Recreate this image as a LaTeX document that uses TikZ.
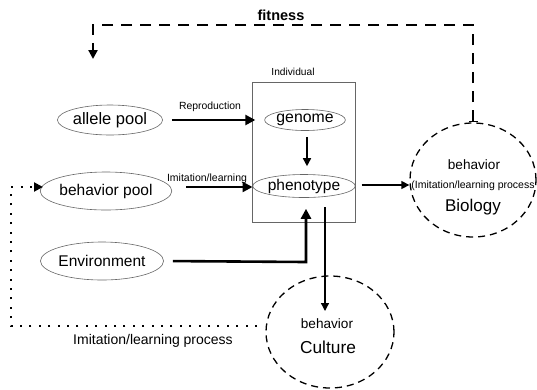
\documentclass[tikz,border=0pt]{standalone}
\usepackage{fontspec}
\setmainfont{Liberation Sans}
\usetikzlibrary{arrows.meta,shapes.geometric,calc}
\newcommand{\fsz}[1]{\fontsize{#1bp}{#1bp}\selectfont}
\begin{document}
\begin{tikzpicture}[x=1bp,y=-1bp,
  pool/.style={ellipse,draw=black!60,line width=0.6bp,inner sep=0pt,text=black},
  circ/.style={ellipse,draw,dash pattern=on 7bp off 5bp,line width=1.3bp,inner sep=0pt},
  lbl/.style={inner sep=0pt},
  thickarr/.style={line width=2.4bp,line join=miter,-{Triangle[length=10bp,width=10bp]}},
  thinarr/.style={line width=1.5bp,-{Triangle[length=8bp,width=8bp]}},
]
\useasboundingbox (0,0) rectangle (537,389);
% individual box
\node[draw=black!60,line width=0.7bp,minimum width=103bp,minimum height=140bp,inner sep=0pt] (box) at (303.5,152) {};
\node[lbl,font=\fsz{10.2}] (indiv) at (293,72) {Individual};
% pools
\node[pool,minimum width=96bp,minimum height=30bp,font=\fsz{16.5}] (allele) at (110,120) {allele pool};
\node[pool,minimum width=110bp,minimum height=38bp,font=\fsz{15.5}] (behpool) at (106,191) {behavior pool};
\node[pool,minimum width=112bp,minimum height=38bp,font=\fsz{15.5}] (env) at (102,261) {Environment};
\node[pool,minimum width=76bp,minimum height=21bp,font=\fsz{15.8}] (genome) at (305,120) {genome};
\node[pool,minimum width=84bp,minimum height=23bp,font=\fsz{15.5}] (pheno) at (304,186) {phenotype};
% circles
\node[circ,minimum width=126bp,minimum height=114bp] (bio) at (473,180) {};
\node[lbl,font=\fsz{13.6}] (biobeh) at (474,165) {behavior};
\node[lbl,font=\fsz{10.5}] (bioproc) at (473,186) {(Imitation/learning process};
\node[lbl,font=\fsz{17}] (biol) at (473,207) {Biology};
\node[circ,minimum width=128bp,minimum height=112bp] (cult) at (330,332) {};
\node[lbl,font=\fsz{13.6}] (cultbeh) at (327,324) {behavior};
\node[lbl,font=\fsz{17.3}] (cultl) at (328,347) {Culture};
% labels
\node[lbl,font=\bfseries\fsz{14.5}] (fit) at (281,15) {fitness};
\node[lbl,font=\fsz{10.4}] (repro) at (210,107) {Reproduction};
\node[lbl,font=\fsz{10.5}] (imit) at (207,179) {Imitation/learning};
\node[lbl,font=\fsz{14}] (imitproc) at (153,341) {Imitation/learning process};
% coordinates
\coordinate (ftop) at (473,25);
\coordinate (fleft) at (93,25);
\coordinate (fend) at (93,59);
\coordinate (ecorner) at (306,262);
\coordinate (cstart) at (325,207);
\coordinate (cend) at (325,311);
\coordinate (dstart) at (257,326);
\coordinate (dcorner) at (11,326);
\coordinate (dtop) at (11,187);
\coordinate (dend) at (43,187);
% arrows
\draw[thickarr,shorten <=9bp,shorten >=9bp] (allele.east) -- (genome.west);
\draw[thickarr,shorten <=14bp] (behpool.east |- 0,187) -- (pheno.west |- 0,187);
\draw[thickarr,line width=2.6bp,shorten <=9bp,shorten >=11bp] (env.east) -- (ecorner) -- (ecorner |- pheno.south);
\draw[thinarr,shorten <=6bp,shorten >=8bp] (genome.south -| 307,0) -- (pheno.north -| 307,0);
\draw[thinarr,line width=1.4bp,shorten <=6bp] (pheno.east |- 0,185) -- (bio.west |- 0,185);
\draw[line width=1.3bp,-{Triangle[length=8bp,width=8bp]}] (cstart) -- (cend);
\draw[line width=2.2bp,dash pattern=on 11bp off 8bp,{Bar[width=9bp,line width=1.5bp]}-{Triangle[length=9bp,width=9bp]}] (bio.north) -- (ftop) -- (fleft) -- (fend);
\draw[line width=2bp,dash pattern=on 2bp off 7.4bp,-{Triangle[length=9bp,width=9bp]}] (dstart) -- (dcorner) -- (dtop) -- (dend);
\end{tikzpicture}
\end{document}
